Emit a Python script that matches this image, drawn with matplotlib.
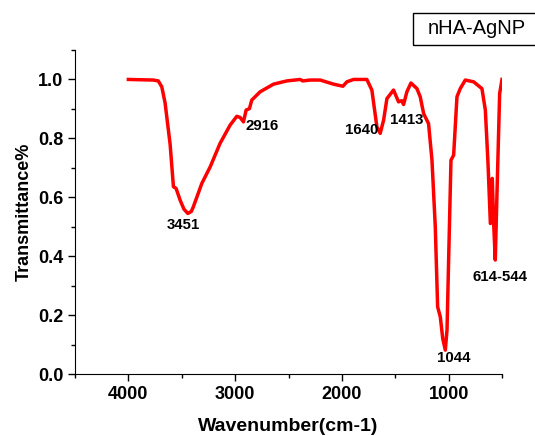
import matplotlib
matplotlib.use("Agg")
import matplotlib.pyplot as plt
from matplotlib.patches import Rectangle
from matplotlib.ticker import MultipleLocator, FormatStrFormatter

plt.rcParams['font.family'] = ['Liberation Sans', 'DejaVu Sans']

# FTIR spectrum of nHA-AgNP (wavenumber in cm-1, normalised transmittance)
wavenumber = [4000, 3766, 3720, 3687, 3656, 3609, 3578, 3553, 3515, 3480, 3443,
              3410, 3391, 3312, 3234, 3141, 3047, 2984, 2953, 2922, 2897, 2866,
              2844, 2766, 2641, 2516, 2391, 2366, 2300, 2203, 2078, 1990, 1953,
              1891, 1766, 1719, 1672, 1641, 1609, 1578, 1516, 1469, 1440, 1422,
              1391, 1353, 1297, 1266, 1234, 1188, 1156, 1125, 1103, 1078, 1055,
              1031, 1015, 1000, 978, 953, 922, 891, 844, 766, 688, 656, 631,
              609, 591, 578, 563, 547, 522, 500]
transmittance = [1.000, 0.998, 0.995, 0.975, 0.920, 0.780, 0.636, 0.630, 0.590, 0.560, 0.545,
                 0.552, 0.568, 0.647, 0.703, 0.783, 0.845, 0.875, 0.871, 0.856, 0.896, 0.901,
                 0.930, 0.958, 0.984, 0.995, 1.000, 0.995, 0.998, 0.998, 0.984, 0.977, 0.992,
                 1.000, 1.000, 0.964, 0.839, 0.817, 0.862, 0.935, 0.964, 0.924, 0.928, 0.915,
                 0.958, 0.988, 0.969, 0.941, 0.884, 0.850, 0.726, 0.500, 0.228, 0.194, 0.120,
                 0.081, 0.150, 0.387, 0.726, 0.743, 0.941, 0.969, 0.998, 0.992, 0.969, 0.896, 0.715,
                 0.511, 0.664, 0.511, 0.387, 0.613, 0.952, 1.000]

# Peak annotations: text, x, y
peak_labels = ["3451", "2916", "1640", "1413", "1044", "614-544"]
peak_x = [3485, 2750, 1813, 1391, 953, 516]
peak_y = [0.506, 0.842, 0.828, 0.862, 0.053, 0.33]

W, H = 535, 436
fig = plt.figure(figsize=(W / 100, H / 100), dpi=100)
ax = fig.add_axes([75 / W, 1 - 374 / H, (502 - 75) / W, (374 - 50) / H])

ax.plot(wavenumber, transmittance, color='#ff0000', lw=2.5, solid_joinstyle='round')

ax.set_xlim(4500, 500)
ax.set_ylim(0, 1.1)
ax.xaxis.set_major_locator(MultipleLocator(1000))
ax.xaxis.set_minor_locator(MultipleLocator(500))
ax.yaxis.set_major_locator(MultipleLocator(0.2))
ax.yaxis.set_minor_locator(MultipleLocator(0.1))
ax.yaxis.set_major_formatter(FormatStrFormatter('%.1f'))
ax.tick_params(which='major', direction='out', length=5, width=1, labelsize=13)
ax.tick_params(which='minor', direction='out', length=3, width=1)
for lab in ax.get_xticklabels() + ax.get_yticklabels():
    lab.set_fontweight('bold')
ax.spines['top'].set_visible(False)
ax.spines['right'].set_visible(False)

ax.set_xlabel('Wavenumber(cm-1)', fontsize=14, fontweight='bold', labelpad=11)
ax.set_ylabel('Transmittance%', fontsize=13, fontweight='bold', labelpad=4)

for t, x, y in zip(peak_labels, peak_x, peak_y):
    ax.text(x, y, t, ha='center', va='center', fontsize=10.8, fontweight='bold')

# Sample name box in the upper-right corner
fig.patches.append(Rectangle((413 / W, 1 - 45 / H), 130 / W, 32 / H,
                             transform=fig.transFigure, fill=False, lw=1, ec='black'))
fig.text(477 / W, 1 - 29 / H, 'nHA-AgNP', ha='center', va='center', fontsize=14.5)

fig.savefig('out.png', dpi=100)
